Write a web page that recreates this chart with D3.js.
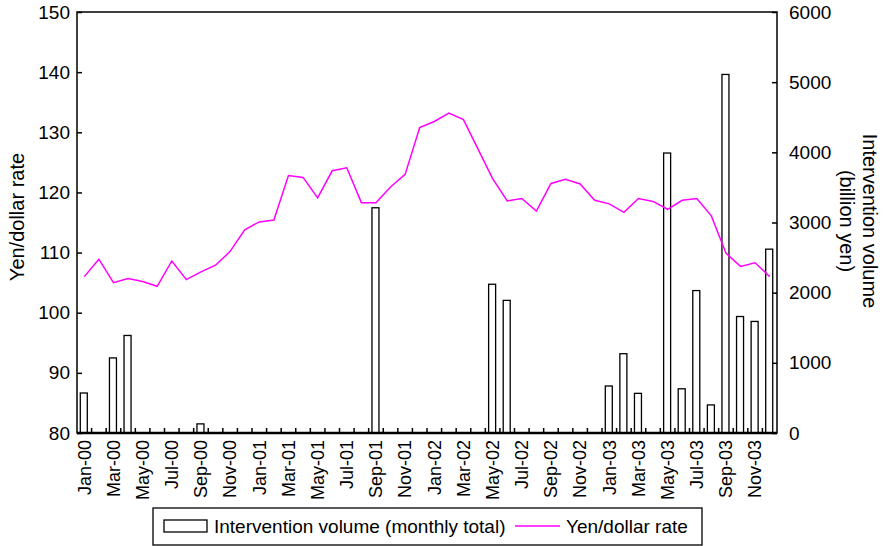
<!DOCTYPE html>
<html lang="en">
<head>
    <meta charset="UTF-8">
    <title>Yen intervention</title>
    <script src="https://d3js.org/d3.v7.min.js"></script>
    <style>
        body { margin: 0; background: #fff; }
        svg { display: block; font-family: "Liberation Sans", Arial, sans-serif; }
        .frame { fill: none; stroke: #000; stroke-width: 1.5px; }
        .bar { fill: #fff; stroke: #000; stroke-width: 1.3px; }
        .rate { fill: none; stroke: #ff00ff; stroke-width: 1.5px; }
        .tick-label { font-size: 19px; fill: #000; }
    </style>
</head>
<body>
    <svg width="883" height="546"></svg>
    <script>
        const months = [
            "Jan-00","Feb-00","Mar-00","Apr-00","May-00","Jun-00","Jul-00","Aug-00","Sep-00","Oct-00","Nov-00","Dec-00",
            "Jan-01","Feb-01","Mar-01","Apr-01","May-01","Jun-01","Jul-01","Aug-01","Sep-01","Oct-01","Nov-01","Dec-01",
            "Jan-02","Feb-02","Mar-02","Apr-02","May-02","Jun-02","Jul-02","Aug-02","Sep-02","Oct-02","Nov-02","Dec-02",
            "Jan-03","Feb-03","Mar-03","Apr-03","May-03","Jun-03","Jul-03","Aug-03","Sep-03","Oct-03","Nov-03","Dec-03"
        ];

        // yen per dollar, monthly
        const yenRate = [
            106.0, 108.9, 105.0, 105.7, 105.2, 104.4, 108.6, 105.5, 106.8, 107.9, 110.2, 113.8,
            115.1, 115.4, 122.8, 122.5, 119.1, 123.6, 124.1, 118.3, 118.3, 120.9, 123.0, 130.8,
            131.8, 133.2, 132.1, 127.2, 122.3, 118.6, 119.0, 116.9, 121.5, 122.2, 121.4, 118.7,
            118.1, 116.7, 119.0, 118.5, 117.2, 118.7, 119.0, 116.1, 109.9, 107.7, 108.3, 106.0
        ];

        // intervention volume, billion yen
        const intervention = [
            570, 0, 1070, 1390, 0, 0, 0, 0, 130, 0, 0, 0,
            0, 0, 0, 0, 0, 0, 0, 0, 3210, 0, 0, 0,
            0, 0, 0, 0, 2120, 1890, 0, 0, 0, 0, 0, 0,
            670, 1130, 565, 0, 3990, 630, 2030, 400, 5110, 1660, 1590, 2620
        ];

        const leftTicks = [80, 90, 100, 110, 120, 130, 140, 150];
        const rightTicks = [0, 1000, 2000, 3000, 4000, 5000, 6000];

        const svg = d3.select("svg");
        const plot = { left: 77, right: 777, top: 12, bottom: 433 };

        const xBand = d3.scaleBand().domain(months).range([plot.left, plot.right]);

        const yLeft = d3.scaleLinear().domain([80, 150]).range([plot.bottom, plot.top]);
        const yRight = d3.scaleLinear().domain([0, 6000]).range([plot.bottom, plot.top]);

        // bars
        svg.append("g").selectAll("rect")
            .data(months.map((m, i) => ({ m, v: intervention[i] })).filter(d => d.v > 0))
            .enter().append("rect")
            .attr("class", "bar")
            .attr("x", d => xBand(d.m) + xBand.bandwidth() / 2 - 4)
            .attr("width", 7)
            .attr("y", d => yRight(d.v))
            .attr("height", d => yRight(0) - yRight(d.v));

        // rate line
        const line = d3.line()
            .x((d, i) => xBand(months[i]) + xBand.bandwidth() / 2)
            .y(d => yLeft(d));

        svg.append("path")
            .datum(yenRate)
            .attr("class", "rate")
            .attr("d", line);

        // left axis
        const leftAxis = d3.axisLeft(yLeft).tickValues(leftTicks).tickSizeInner(-5).tickSizeOuter(0).tickPadding(7);
        const gl = svg.append("g").attr("transform", `translate(${plot.left},0)`).call(leftAxis);

        // right axis
        const rightAxis = d3.axisRight(yRight).tickValues(rightTicks).tickFormat(d3.format("d"))
            .tickSizeInner(-5).tickSizeOuter(0).tickPadding(12);
        const gr = svg.append("g").attr("transform", `translate(${plot.right},0)`).call(rightAxis);

        [gl, gr].forEach(g => {
            g.select(".domain").remove();
            g.selectAll(".tick line").attr("stroke", "#000").attr("stroke-width", 1.5);
            g.selectAll(".tick text").attr("class", "tick-label").style("font-size", "19px");
        });

        // bottom month ticks between bands
        svg.append("g").selectAll("line")
            .data(months.slice(1))
            .enter().append("line")
            .attr("x1", d => xBand(d)).attr("x2", d => xBand(d))
            .attr("y1", plot.bottom).attr("y2", plot.bottom - 5)
            .attr("stroke", "#000").attr("stroke-width", 1.5);

        // month labels every second month
        svg.append("g").selectAll("text")
            .data(months.filter((m, i) => i % 2 === 0))
            .enter().append("text")
            .attr("class", "tick-label")
            .attr("text-anchor", "end")
            .attr("dy", "0.35em")
            .attr("transform", d => `translate(${xBand(d) + xBand.bandwidth() / 2},${plot.bottom + 7}) rotate(-90)`)
            .style("font-size", "18px")
            .text(d => d);

        // frame
        svg.append("rect")
            .attr("class", "frame")
            .attr("x", plot.left).attr("y", plot.top)
            .attr("width", plot.right - plot.left)
            .attr("height", plot.bottom - plot.top);
        svg.append("line")
            .attr("x1", plot.left).attr("x2", plot.right)
            .attr("y1", plot.bottom).attr("y2", plot.bottom)
            .attr("stroke", "#000").attr("stroke-width", 2.5);

        // axis titles
        svg.append("text")
            .attr("transform", "translate(24,217) rotate(-90)")
            .attr("text-anchor", "middle")
            .style("font-size", "20px")
            .text("Yen/dollar rate");

        const rt = svg.append("text")
            .attr("transform", "translate(861,221) rotate(90)")
            .attr("text-anchor", "middle")
            .style("font-size", "20px");
        rt.append("tspan").attr("x", 0).attr("dy", "-0.1em").text("Intervention volume");
        rt.append("tspan").attr("x", 0).attr("dy", "1.15em").text("(billion yen)");

        // legend
        const lg = svg.append("g");
        lg.append("rect")
            .attr("x", 153).attr("y", 508).attr("width", 549).attr("height", 37)
            .attr("fill", "#fff").attr("stroke", "#000").attr("stroke-width", 1.3);
        lg.append("rect")
            .attr("class", "bar")
            .attr("x", 164).attr("y", 520).attr("width", 43).attr("height", 12);
        lg.append("text").attr("x", 214).attr("y", 533).style("font-size", "19px")
            .text("Intervention volume (monthly total)");
        lg.append("line")
            .attr("x1", 515).attr("x2", 560).attr("y1", 526).attr("y2", 526)
            .attr("stroke", "#ff00ff").attr("stroke-width", 1.5);
        lg.append("text").attr("x", 566).attr("y", 533).style("font-size", "19px")
            .text("Yen/dollar rate");
    </script>
</body>
</html>
